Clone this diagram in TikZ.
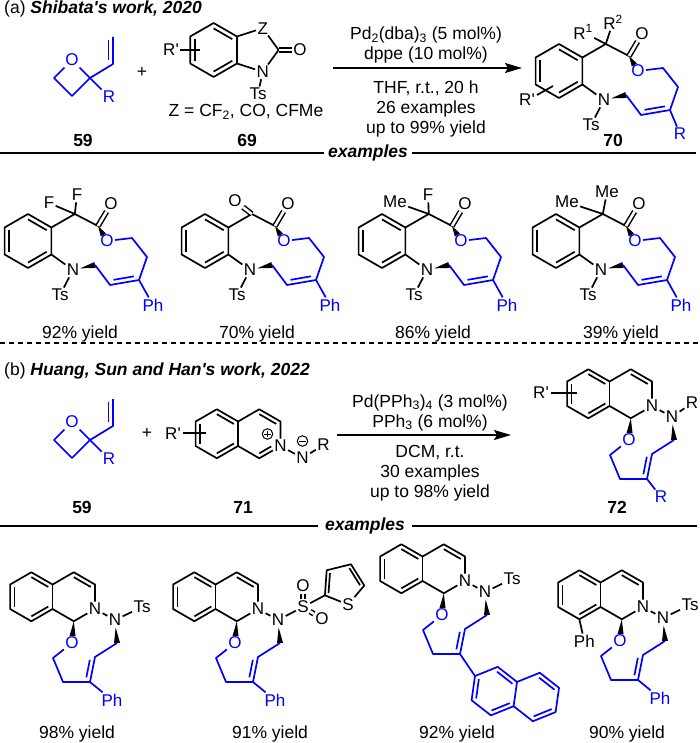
\documentclass[tikz,border=0pt]{standalone}
\usepackage{fontspec}
\setmainfont{Liberation Sans}
\usetikzlibrary{calc,arrows.meta}
\definecolor{chemblue}{RGB}{0,0,255}
\tikzset{
  bnd/.style={line width=1.7pt, line join=round},
  bnb/.style={bnd, draw=chemblue},
  dbond/.style={double, double distance=2.6pt, line width=1.5pt},
  atm/.style={inner sep=1.3pt, font=\fontsize{17}{19}\selectfont},
  atmb/.style={atm, text=chemblue},
  txt/.style={inner sep=0pt, font=\fontsize{17.5}{20}\selectfont},
  cpd/.style={inner sep=0pt, font=\fontsize{17.5}{20}\selectfont\bfseries},
  sepline/.style={line width=1.6pt},
  rxn/.style={line width=1.6pt, -{Stealth[length=17pt,width=10pt,inset=3pt]}},
}
\newcommand{\hexo}[4]{\foreach \hI/\hA in {1/-90,2/-30,3/30,4/90,5/150,6/210}{\coordinate (#1\hI) at ($(#2)+({\hA+#4}:#3)$);}}
\newcommand{\hexa}[3]{\hexo{#1}{#2}{#3}{0}}
\newcommand{\inr}[4][bnd]{\draw[#1] ($(#2)!0.8!(#3)$) -- ($(#2)!0.8!(#4)$);}
\newcommand{\wdg}[2]{\fill (#1) -- ($(#2)!3pt!90:(#1)$) -- ($(#2)!3pt!-90:(#1)$) -- cycle;}
% template of series (a)
\newcommand{\ExA}[2]{%
  \coordinate (c) at (#1,#2);
  \hexa{h}{c}{27}
  \draw[bnd] (h1)--(h2)--(h3)--(h4)--(h5)--(h6)--cycle;
  \inr{c}{h1}{h2}\inr{c}{h3}{h4}\inr{c}{h5}{h6}
  \coordinate (Cq) at ($(c)+(46.8,-27)$);
  \coordinate (Cc) at ($(c)+(70,-15)$);
  \node[atm] (Oc) at ($(c)+(83,-37)$) {O};
  \node[atmb] (Oe) at ($(c)+(79,0)$) {O};
  \coordinate (C1) at ($(c)+(104,-3)$);
  \coordinate (C2) at ($(c)+(119,16)$);
  \coordinate (C3) at ($(c)+(111,39)$);
  \coordinate (C4) at ($(c)+(82,44)$);
  \coordinate (C5) at ($(c)+(67,24)$);
  \node[atm] (N) at ($(c)+(45,29)$) {N};
  \node[atm] (Ts) at ($(c)+(32,54)$) {Ts};
  \draw[bnd] (h2)--(Cq)--(Cc);
  \draw[dbond] (Cc)--(Oc);
  \draw[bnd] (h3)--(N);
  \draw[bnd] (N)--(Ts);
  \coordinate (w1) at ($(N)!7.5pt!(C5)$); \wdg{w1}{C5}
  \coordinate (w2) at ($(Oe)!7pt!(Cc)$); \wdg{Cc}{w2}
  \draw[bnb] (Oe)--(C1)--(C2)--(C3)--(C4)--(C5);
  \draw[bnb] ($(C4)!0.15!(C3)+(-0.8,-4.4)$)--($(C3)!0.15!(C4)+(-0.8,-4.4)$);
}
% dihydroisoquinoline ring, N2 at #1,#2
\newcommand{\IsoQ}[2]{%
  \coordinate (b) at (#1,#2);
  \node[atm] (N2) at (b) {N};
  \coordinate (P) at ($(b)+(-21.22,-12.25)$);
  \coordinate (Q) at ($(b)+(-63.66,-12.25)$);
  \coordinate (K1) at ($(b)+(-21.22,12.25)$);
  \coordinate (K8a) at ($(b)+(-42.44,0)$);
  \coordinate (K4a) at ($(b)+(-42.44,-24.5)$);
  \coordinate (K4) at ($(b)+(-21.22,-36.75)$);
  \coordinate (K3) at ($(b)+(0,-24.5)$);
  \coordinate (K8) at ($(b)+(-63.66,12.25)$);
  \coordinate (K7) at ($(b)+(-84.87,0)$);
  \coordinate (K6) at ($(b)+(-84.87,-24.5)$);
  \coordinate (K5) at ($(b)+(-63.66,-36.75)$);
  \draw[bnd] (N2)--(K3)--(K4)--(K4a)--(K5)--(K6)--(K7)--(K8)--(K8a)--(K1)--(N2);
  \draw[bnd] (K4a)--(K8a);
  \inr{Q}{K5}{K4a}\inr{Q}{K8a}{K8}\inr{Q}{K7}{K6}\inr{P}{K4}{K3}
}
\newcommand{\ChainB}{%
  \node[atm] (Np) at ($(b)+(20,11)$) {N};
  \draw[bnd] (N2)--(Np);
  \node[atmb] (Ob) at ($(b)+(-23,34)$) {O};
  \coordinate (w3) at ($(Ob)!7pt!(K1)$); \wdg{K1}{w3}
  \coordinate (Ce) at ($(b)+(22,34)$);
  \coordinate (Cd) at ($(b)+(0,48)$);
  \coordinate (Cc) at ($(b)+(-5,73)$);
  \coordinate (Cb) at ($(b)+(-32,73)$);
  \coordinate (Ca) at ($(b)+(-42,49)$);
  \coordinate (w4) at ($(Np)!7.5pt!(Ce)$); \wdg{w4}{Ce}
  \draw[bnb] (Ob)--(Ca)--(Cb)--(Cc)--(Cd)--(Ce);
  \draw[bnb] ($(Cc)!0.15!(Cd)+(-4.4,-0.9)$)--($(Cd)!0.15!(Cc)+(-4.4,-0.9)$);
}
\newcommand{\Oxe}[1]{%
  \node[atmb] (Ox) at (72,{60+#1}) {O};
  \coordinate (ox2) at (90,{78+#1});
  \coordinate (ox3) at (72,{96+#1});
  \coordinate (ox4) at (54,{78+#1});
  \coordinate (ov) at (113,{64+#1});
  \coordinate (ovt) at (113,{37+#1});
  \node[atmb] (oR) at (109,{97+#1}) {R};
  \draw[bnb] (Ox)--(ox2)--(ox3)--(ox4)--(Ox);
  \draw[bnb] (ox2)--(ov)--(ovt);
  \draw[bnb] (108.6,{60+#1})--(108.6,{40+#1});
  \draw[bnb] (ox2)--(oR);
}
\begin{document}
\begin{tikzpicture}[x=1pt,y=-1pt]
\useasboundingbox (0,0) rectangle (700,743);
% ---------------- (a) ----------------
\node[txt,anchor=base west] (ta) at (4,14) {(a) \textbf{\textit{Shibata\textquotesingle s work, 2020}}};
\Oxe{0}
\node[cpd,anchor=base] (n59a) at (83,147) {59};
\node[txt] (plA) at (142,72) {+};
% 69
\coordinate (c69) at (213.6,50);
\hexa{g}{c69}{27}
\draw[bnd] (g1)--(g2)--(g3)--(g4)--(g5)--(g6)--cycle;
\inr{c69}{g1}{g2}\inr{c69}{g3}{g4}\inr{c69}{g5}{g6}
\node[atm] (Z) at (262.7,28.2) {Z};
\coordinate (g7) at (278.6,50);
\node[atm] (N69) at (262.7,71.8) {N};
\node[atm] (O69) at (300,50) {O};
\node[atm] (Ts69) at (258,94) {Ts};
\draw[bnd] (g2)--(Z)--(g7)--(N69)--(g3);
\draw[dbond] (g7)--(O69);
\draw[bnd] (N69)--(Ts69);
\node[atm] (Rp69) at (171,50) {R\textquotesingle};
\coordinate (rl1) at (180,50); \coordinate (rl2) at (200,50);
\draw[bnd] (rl1)--(rl2);
\node[txt,anchor=base] (zlab) at (246,117) {Z = CF\textsubscript{2}, CO, CFMe};
\node[cpd,anchor=base] (n69) at (247,147) {69};
% arrow (a)
\coordinate (arA1) at (333,68); \coordinate (arA2) at (522,68);
\draw[rxn] (arA1)--(arA2);
\node[txt,anchor=base] (ca1) at (426,40) {Pd\textsubscript{2}(dba)\textsubscript{3} (5 mol\%)};
\node[txt,anchor=base] (ca2) at (426,60) {dppe (10 mol\%)};
\node[txt,anchor=base] (ca3) at (426,94) {THF, r.t., 20 h};
\node[txt,anchor=base] (ca4) at (426,114) {26 examples};
\node[txt,anchor=base] (ca5) at (426,134) {up to 99\% yield};
% 70
\ExA{559}{71}
\node[atm] (R1) at (583,32) {R\textsuperscript{1}};
\node[atm] (R2) at (613,22) {R\textsuperscript{2}};
\draw[bnd] (Cq)--(R1); \draw[bnd] (Cq)--(R2);
\node[atmb] (R70) at (680,134) {R};
\draw[bnb] (C3)--(R70);
\node[atm] (Rp70) at (527,100) {R\textquotesingle};
\coordinate (rl3) at (537,95); \coordinate (rl4) at (553,86);
\draw[bnd] (rl3)--(rl4);
\node[cpd,anchor=base] (n70) at (613,147) {70};
% separator
\node[txt,font=\fontsize{17.5}{20}\selectfont\bfseries\itshape,inner xsep=4pt] (exa) at (368,153) {examples};
\coordinate (sa1) at (0,153); \coordinate (sa2) at (696,153);
\draw[sepline] (sa1)--(exa.west); \draw[sepline] (exa.east)--(sa2);
% examples (a)
\ExA{28}{241}
\node[atm] (F1) at ($(c)+(49,-46)$) {F};
\node[atm] (F2) at ($(c)+(21,-38)$) {F};
\draw[bnd] (Cq)--(F1); \draw[bnd] (Cq)--(F2);
\node[atmb] (Ph1) at ($(c)+(125,64)$) {Ph}; \draw[bnb] (C3)--(Ph1);
\node[txt,anchor=base] (y1) at (80,338) {92\% yield};
\ExA{205}{241}
\node[atm] (Ok) at ($(c)+(30,-40)$) {O};
\draw[dbond] (Cq)--(Ok);
\node[atmb] (Ph2) at ($(c)+(125,64)$) {Ph}; \draw[bnb] (C3)--(Ph2);
\node[txt,anchor=base] (y2) at (257,338) {70\% yield};
\ExA{382}{241}
\node[atm] (Me3) at ($(c)+(13,-39)$) {Me};
\node[atm] (F3) at ($(c)+(46,-46)$) {F};
\draw[bnd] (Cq)--(Me3); \draw[bnd] (Cq)--(F3);
\node[atmb] (Ph3) at ($(c)+(125,64)$) {Ph}; \draw[bnb] (C3)--(Ph3);
\node[txt,anchor=base] (y3) at (433,338) {86\% yield};
\ExA{556}{241}
\node[atm] (Me4) at ($(c)+(11,-39)$) {Me};
\node[atm] (Me5) at ($(c)+(51,-49)$) {Me};
\draw[bnd] (Cq)--(Me4); \draw[bnd] (Cq)--(Me5);
\node[atmb] (Ph4) at ($(c)+(125,64)$) {Ph}; \draw[bnb] (C3)--(Ph4);
\node[txt,anchor=base] (y4) at (621,338) {39\% yield};
% dashed divider
\coordinate (d1) at (0,343); \coordinate (d2) at (700,343);
\draw[line width=1.3pt, dash pattern=on 5pt off 4pt] (d1)--(d2);
% ---------------- (b) ----------------
\node[txt,anchor=base west] (tb) at (4,375) {(b) \textbf{\textit{Huang, Sun and Han\textquotesingle s work, 2022}}};
\Oxe{362}
\node[cpd,anchor=base] (n59b) at (82,513) {59};
\node[txt] (plB) at (147,433) {+};
% 71
\IsoQ{280.5}{446}
\coordinate (i1) at ($(P)!0.8!(K1)$); \coordinate (i2) at ($(P)!0.8!(N2)$);
\draw[bnd] (i1)--($(i1)!0.7!(i2)$);
\node[circle,draw,line width=1pt,minimum size=10.5pt,inner sep=0pt] (chp) at ($(N2)+(-13,-12)$) {};
\draw[line width=1pt] ($(chp)+(-3.2,0)$)--($(chp)+(3.2,0)$) ($(chp)+(0,-3.2)$)--($(chp)+(0,3.2)$);
\node[atm] (Nm) at ($(N2)+(22,12)$) {N};
\draw[bnd] (N2)--(Nm);
\node[atm] (Rq) at ($(Nm)+(21,-13)$) {R};
\draw[bnd] (Nm)--(Rq);
\node[circle,draw,line width=1pt,minimum size=10.5pt,inner sep=0pt] (chm) at ($(Nm)+(0,-17)$) {};
\draw[line width=1pt] ($(chm)+(-3.2,0)$)--($(chm)+(3.2,0)$);
\node[atm] (Rp71) at (173,434) {R\textquotesingle};
\coordinate (rl5) at (183,433); \coordinate (rl6) at (206,433);
\draw[bnd] (rl5)--(rl6);
\node[cpd,anchor=base] (n71) at (243,513) {71};
% arrow (b)
\coordinate (arB1) at (337,435); \coordinate (arB2) at (511,435);
\draw[rxn] (arB1)--(arB2);
\node[txt,anchor=base] (cb1) at (430,407) {Pd(PPh\textsubscript{3})\textsubscript{4} (3 mol\%)};
\node[txt,anchor=base] (cb2) at (430,427) {PPh\textsubscript{3} (6 mol\%)};
\node[txt,anchor=base] (cb3) at (430,457) {DCM, r.t.};
\node[txt,anchor=base] (cb4) at (430,477) {30 examples};
\node[txt,anchor=base] (cb5) at (430,497) {up to 98\% yield};
% 72
\IsoQ{652}{406}\ChainB
\node[atm] (Rn72) at ($(Np)+(20,-14)$) {R}; \draw[bnd] (Np)--(Rn72);
\node[atmb] (Rc72) at ($(b)+(9,91)$) {R}; \draw[bnb] (Cc)--(Rc72);
\node[atm] (Rp72) at (541,393) {R\textquotesingle};
\coordinate (rl7) at (551,393); \coordinate (rl8) at (577,393);
\draw[bnd] (rl7)--(rl8);
\node[cpd,anchor=base] (n72) at (617,513) {72};
% separator
\node[txt,font=\fontsize{17.5}{20}\selectfont\bfseries\itshape,inner xsep=7pt] (exb) at (365,526) {examples};
\coordinate (sb1) at (0,526); \coordinate (sb2) at (697,526);
\draw[sepline] (sb1)--(exb.west); \draw[sepline] (exb.east)--(sb2);
% examples (b)
\IsoQ{95}{609}\ChainB
\node[atm] (TsB1) at ($(Np)+(27,-13)$) {Ts}; \draw[bnd] (Np)--(TsB1);
\node[atmb] (PhB1) at ($(b)+(17,91)$) {Ph}; \draw[bnb] (Cc)--(PhB1);
\node[txt,anchor=base] (yb1) at (77,738) {98\% yield};
\IsoQ{258}{609}\ChainB
\node[atm] (S) at ($(Np)+(25,-13)$) {S}; \draw[bnd] (Np)--(S);
\node[atm] (OS1) at ($(S)+(0,-21)$) {O}; \draw[dbond] (S)--(OS1);
\node[atm] (OS2) at ($(S)+(19,12)$) {O}; \draw[dbond] (S)--(OS2);
\coordinate (Tc) at ($(S)+(40,-23)$);
\coordinate (t2) at ($(S)+(21.94,-11.71)$);
\coordinate (t3) at ($(S)+(23.68,-36.69)$);
\coordinate (t4) at ($(S)+(47.98,-42.75)$);
\coordinate (t5) at ($(S)+(61.25,-21.51)$);
\node[atm] (St) at ($(S)+(45.15,-2.33)$) {S};
\draw[bnd] (S)--(t2);
\draw[bnd] (St)--(t2)--(t3)--(t4)--(t5)--(St);
\inr{Tc}{t2}{t3}\inr{Tc}{t4}{t5}
\node[atmb] (PhB2) at ($(b)+(17,91)$) {Ph}; \draw[bnb] (Cc)--(PhB2);
\node[txt,anchor=base] (yb2) at (270,738) {91\% yield};
\IsoQ{465}{581}\ChainB
\node[atm] (TsB3) at ($(Np)+(27,-13)$) {Ts}; \draw[bnd] (Np)--(TsB3);
\coordinate (NA) at (494.3,691.1); \hexo{na}{NA}{24.5}{8}
\coordinate (NB) at (536.3,697.0); \hexo{nb}{NB}{24.5}{8}
\draw[bnb] (Cc)--(na6);
\draw[bnb] (na1)--(na2)--(na3)--(na4)--(na5)--(na6)--cycle;
\draw[bnb] (na2)--(nb1)--(nb2)--(nb3)--(nb4)--(na3);
\inr[bnb]{NA}{na5}{na6}\inr[bnb]{NA}{na1}{na2}\inr[bnb]{NA}{na3}{na4}
\inr[bnb]{NB}{nb1}{nb2}\inr[bnb]{NB}{nb3}{nb4}
\node[txt,anchor=base] (yb3) at (457,738) {92\% yield};
\IsoQ{643}{607}\ChainB
\node[atm] (TsB4) at ($(Np)+(27,-13)$) {Ts}; \draw[bnd] (Np)--(TsB4);
\node[atm] (Ph8) at ($(K8)+(5,22)$) {Ph}; \draw[bnd] (K8)--(Ph8);
\node[atmb] (PhB4) at ($(b)+(17,91)$) {Ph}; \draw[bnb] (Cc)--(PhB4);
\node[txt,anchor=base] (yb4) at (627,738) {90\% yield};
\end{tikzpicture}
\end{document}
